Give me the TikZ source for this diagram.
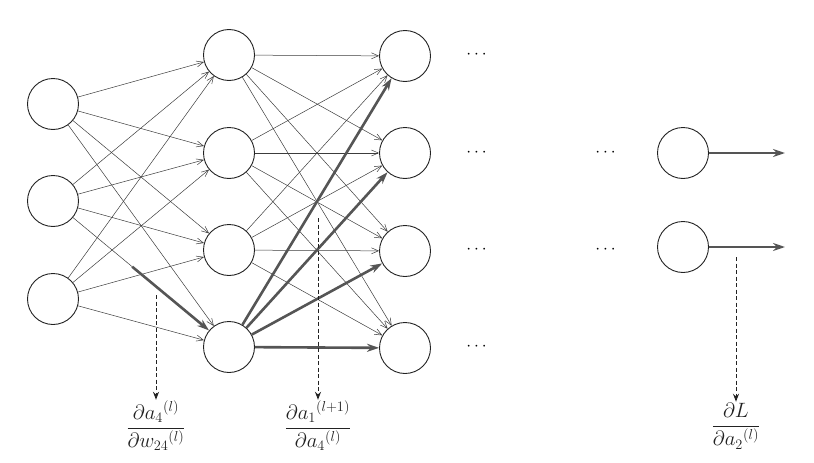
\documentclass[tikz,border=0pt]{standalone}
\usepackage{amsmath,amssymb}
\usepackage{tikz}
\usetikzlibrary{arrows.meta,calc,positioning}
\definecolor{ink}{HTML}{222222}
\definecolor{wire}{HTML}{3C3C3C}
\definecolor{heavy}{HTML}{555555}

\begin{document}
\begin{tikzpicture}[x=1pt,y=-1pt,
    neuron/.style={circle,draw=ink,line width=0.9pt,minimum size=51pt,inner sep=0pt},
    thinarrow/.style={-{Straight Barb[length=7pt,width=6pt]},wire,line width=0.5pt},
    heavyarrow/.style={-{Stealth[length=12pt,width=8pt]},heavy,line width=2.6pt},
    gradarrow/.style={-{Stealth[length=8pt,width=6pt]},ink,dash pattern=on 4pt off 2.5pt,line width=1pt},
    dots/.style={font=\LARGE,color=black},
    grad/.style={font=\huge,color=ink,inner sep=1pt}]
  \useasboundingbox (0,0) rectangle (814,463);

  % layers
  \foreach \n/\y in {1/104,2/201,3/299}
    \node[neuron] (i\n) at (53,\y) {};
  \foreach \n/\y in {1/55,2/153,3/250,4/347}
    \node[neuron] (h\n) at (229,\y) {};
  \foreach \n/\y in {1/56,2/153,3/251,4/348}
    \node[neuron] (o\n) at (405,\y) {};
  \node[neuron] (z1) at (683,153) {};
  \node[neuron] (z2) at (683,247) {};

  \foreach \n/\y in {1/55,2/153,3/250,4/347}
    \node[dots] (d\n) at (478,\y) {$\cdots$};
  \node[dots] (e1) at (607,153) {$\cdots$};
  \node[dots] (e2) at (607,250) {$\cdots$};

  % thin connections
  \foreach \a in {1,2,3}
    \foreach \b in {1,2,3,4} {
      \ifnum\a\b=24\else
        \draw[thinarrow] (i\a) -- (h\b);
      \fi
    }
  \foreach \a in {1,2,3}
    \foreach \b in {1,2,3,4}
      \draw[thinarrow] (h\a) -- (o\b);

  % highlighted path
  \coordinate (m24) at ($(i2)!0.45!(h4)$);
  \draw[wire,line width=0.5pt] (i2) -- (m24);
  \draw[heavyarrow] (m24) -- (h4);
  \foreach \b in {1,2,3,4}
    \draw[heavyarrow] (h4) -- (o\b);

  \coordinate (y1) at (785,153);
  \coordinate (y2) at (785,247);
  \draw[heavyarrow] (z1) -- (y1);
  \draw[heavyarrow] (z2) -- (y2);

  % gradient terms
  \node[grad] (g1) at (156,426) {$\dfrac{\partial a_4{}^{(l)}}{\partial w_{24}{}^{(l)}}$};
  \node[grad] (g2) at (318,426) {$\dfrac{\partial a_1{}^{(l+1)}}{\partial a_4{}^{(l)}}$};
  \node[grad] (g3) at (736,426) {$\dfrac{\partial L}{\partial a_2{}^{(l)}}$};

  \coordinate (s1) at (156,295);
  \coordinate (s2) at (318,218);
  \coordinate (s3) at (736,257);
  \draw[gradarrow] (s1) -- (g1.north);
  \draw[gradarrow] (s2) -- (g2.north);
  \draw[gradarrow] (s3) -- (g3.north);
\end{tikzpicture}
\end{document}
